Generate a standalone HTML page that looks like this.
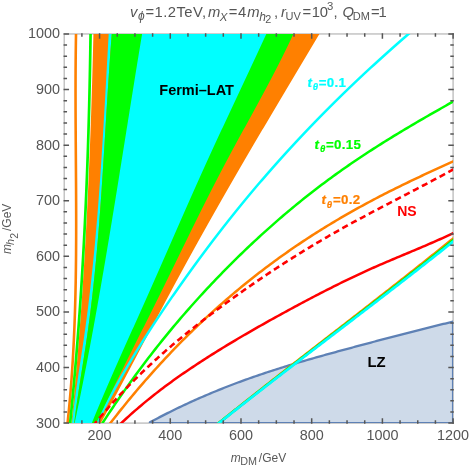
<!DOCTYPE html>
<html><head><meta charset="utf-8"><title>plot</title>
<style>
html,body{margin:0;padding:0;background:#fff;}
body{width:471px;height:469px;overflow:hidden;}
svg{display:block;font-family:"Liberation Sans",sans-serif;}
.tk{font-size:14.4px;fill:#555;}
.ti{font-size:14.8px;fill:#555;}
.ax{font-size:12px;fill:#595959;}
.lb{font-size:14.5px;font-weight:bold;}
.lt{font-size:13.3px;font-weight:bold;stroke-width:0.2px;}
</style></head><body>
<svg width="471" height="469" viewBox="0 0 471 469">
<rect width="471" height="469" fill="#fff"/>
<defs><clipPath id="cp"><rect x="64.25" y="33.95" width="388.85" height="389.15000000000003"/></clipPath></defs>
<rect x="64.25" y="33.95" width="388.85" height="389.15000000000003" fill="none" stroke="#c4c4c4" stroke-width="1.5"/>
<g clip-path="url(#cp)">
<path d="M93.51 30.00 L93.43 33.34 L93.35 36.67 L93.27 40.01 L93.19 43.34 L93.10 46.68 L93.02 50.02 L92.93 53.35 L92.84 56.69 L92.75 60.03 L92.66 63.36 L92.57 66.70 L92.47 70.03 L92.38 73.37 L92.28 76.71 L92.18 80.04 L92.09 83.38 L91.99 86.71 L91.88 90.05 L91.78 93.39 L91.68 96.72 L91.57 100.06 L91.46 103.39 L91.35 106.73 L91.24 110.07 L91.13 113.40 L91.02 116.74 L90.90 120.08 L90.78 123.41 L90.66 126.75 L90.54 130.08 L90.42 133.42 L90.30 136.76 L90.17 140.09 L90.05 143.43 L89.92 146.76 L89.79 150.10 L89.65 153.44 L89.52 156.77 L89.38 160.11 L89.24 163.45 L89.10 166.78 L88.96 170.12 L88.82 173.45 L88.67 176.79 L88.53 180.13 L88.38 183.46 L88.23 186.80 L88.07 190.13 L87.92 193.47 L87.76 196.81 L87.60 200.14 L87.44 203.48 L87.28 206.82 L87.11 210.15 L86.94 213.49 L86.77 216.82 L86.60 220.16 L86.43 223.50 L86.25 226.83 L86.07 230.17 L85.89 233.50 L85.71 236.84 L85.52 240.18 L85.34 243.51 L85.15 246.85 L84.95 250.18 L84.76 253.52 L84.56 256.86 L84.36 260.19 L84.16 263.53 L83.96 266.87 L83.75 270.20 L83.54 273.54 L83.33 276.87 L83.12 280.21 L82.90 283.55 L82.68 286.88 L82.46 290.22 L82.24 293.55 L82.01 296.89 L81.78 300.23 L81.55 303.56 L81.32 306.90 L81.08 310.24 L80.84 313.57 L80.60 316.91 L80.35 320.24 L80.11 323.58 L79.85 326.92 L79.60 330.25 L79.35 333.59 L79.09 336.92 L78.83 340.26 L78.56 343.60 L78.29 346.93 L78.02 350.27 L77.75 353.61 L77.48 356.94 L77.20 360.28 L76.92 363.61 L76.63 366.95 L76.34 370.29 L76.05 373.62 L75.76 376.96 L75.46 380.29 L75.16 383.63 L74.86 386.97 L74.55 390.30 L74.25 393.64 L73.93 396.97 L73.62 400.31 L73.30 403.65 L72.98 406.98 L72.65 410.32 L72.33 413.66 L71.99 416.99 L71.66 420.33 L71.32 423.66 L70.98 427.00 L98.64 427.00 L100.01 424.50 L101.38 422.01 L102.75 419.51 L104.12 417.01 L105.48 414.52 L106.84 412.02 L108.20 409.52 L109.55 407.03 L110.90 404.53 L112.25 402.03 L113.59 399.53 L114.93 397.04 L116.27 394.54 L117.61 392.04 L118.94 389.55 L120.27 387.05 L121.60 384.55 L122.93 382.06 L124.25 379.56 L125.58 377.06 L126.90 374.57 L128.22 372.07 L129.54 369.57 L130.86 367.08 L132.17 364.58 L133.49 362.08 L134.80 359.58 L136.12 357.09 L137.43 354.59 L138.74 352.09 L140.06 349.60 L141.37 347.10 L142.68 344.60 L143.99 342.11 L145.31 339.61 L146.62 337.11 L147.93 334.62 L149.25 332.12 L150.56 329.62 L151.88 327.13 L153.19 324.63 L154.51 322.13 L155.83 319.64 L157.15 317.14 L158.47 314.64 L159.79 312.14 L161.12 309.65 L162.44 307.15 L163.77 304.65 L165.10 302.16 L166.43 299.66 L167.77 297.16 L169.11 294.67 L170.45 292.17 L171.79 289.67 L173.13 287.18 L174.48 284.68 L175.83 282.18 L177.18 279.69 L178.54 277.19 L179.90 274.69 L181.26 272.19 L182.62 269.70 L183.98 267.20 L185.35 264.70 L186.72 262.21 L188.09 259.71 L189.47 257.21 L190.85 254.72 L192.23 252.22 L193.61 249.72 L194.99 247.23 L196.38 244.73 L197.77 242.23 L199.16 239.74 L200.55 237.24 L201.95 234.74 L203.35 232.25 L204.75 229.75 L206.15 227.25 L207.55 224.75 L208.96 222.26 L210.37 219.76 L211.78 217.26 L213.19 214.77 L214.61 212.27 L216.02 209.77 L217.44 207.28 L218.86 204.78 L220.29 202.28 L221.71 199.79 L223.14 197.29 L224.57 194.79 L226.00 192.30 L227.43 189.80 L228.86 187.30 L230.30 184.81 L231.74 182.31 L233.18 179.81 L234.62 177.31 L236.07 174.82 L237.51 172.32 L238.96 169.82 L240.41 167.33 L241.86 164.83 L243.31 162.33 L244.76 159.84 L246.22 157.34 L247.68 154.84 L249.13 152.35 L250.60 149.85 L252.06 147.35 L253.52 144.86 L254.98 142.36 L256.45 139.86 L257.92 137.36 L259.39 134.87 L260.86 132.37 L262.33 129.87 L263.80 127.38 L265.27 124.88 L266.75 122.38 L268.22 119.89 L269.70 117.39 L271.18 114.89 L272.66 112.40 L274.14 109.90 L275.62 107.40 L277.10 104.91 L278.58 102.41 L280.06 99.91 L281.55 97.42 L283.03 94.92 L284.52 92.42 L286.00 89.92 L287.49 87.43 L288.98 84.93 L290.47 82.43 L291.95 79.94 L293.44 77.44 L294.93 74.94 L296.42 72.45 L297.91 69.95 L299.40 67.45 L300.89 64.96 L302.38 62.46 L303.87 59.96 L305.37 57.47 L306.86 54.97 L308.35 52.47 L309.84 49.97 L311.33 47.48 L312.82 44.98 L314.32 42.48 L315.81 39.99 L317.30 37.49 L318.79 34.99 L320.28 32.50 L321.77 30.00 Z" fill="#ff8000"/>
<path d="M413.14 30.00 L410.25 32.50 L407.36 34.99 L404.48 37.49 L401.62 39.99 L398.77 42.48 L395.93 44.98 L393.11 47.48 L390.30 49.97 L387.51 52.47 L384.73 54.97 L381.96 57.47 L379.20 59.96 L376.46 62.46 L373.74 64.96 L371.02 67.45 L368.32 69.95 L365.64 72.45 L362.96 74.94 L360.30 77.44 L357.66 79.94 L355.02 82.43 L352.40 84.93 L349.79 87.43 L347.20 89.92 L344.62 92.42 L342.05 94.92 L339.50 97.42 L336.95 99.91 L334.42 102.41 L331.91 104.91 L329.40 107.40 L326.91 109.90 L324.43 112.40 L321.97 114.89 L319.51 117.39 L317.07 119.89 L314.64 122.38 L312.23 124.88 L309.82 127.38 L307.43 129.87 L305.06 132.37 L302.69 134.87 L300.34 137.36 L297.99 139.86 L295.66 142.36 L293.35 144.86 L291.04 147.35 L288.75 149.85 L286.47 152.35 L284.20 154.84 L281.94 157.34 L279.69 159.84 L277.46 162.33 L275.24 164.83 L273.03 167.33 L270.83 169.82 L268.64 172.32 L266.47 174.82 L264.30 177.31 L262.15 179.81 L260.01 182.31 L257.87 184.81 L255.75 187.30 L253.65 189.80 L251.55 192.30 L249.46 194.79 L247.38 197.29 L245.31 199.79 L243.26 202.28 L241.21 204.78 L239.18 207.28 L237.15 209.77 L235.13 212.27 L233.13 214.77 L231.13 217.26 L229.15 219.76 L227.17 222.26 L225.20 224.75 L223.24 227.25 L221.30 229.75 L219.36 232.25 L217.43 234.74 L215.51 237.24 L213.59 239.74 L211.69 242.23 L209.80 244.73 L207.91 247.23 L206.04 249.72 L204.17 252.22 L202.31 254.72 L200.46 257.21 L198.61 259.71 L196.78 262.21 L194.95 264.70 L193.13 267.20 L191.32 269.70 L189.52 272.19 L187.73 274.69 L185.94 277.19 L184.16 279.69 L182.39 282.18 L180.62 284.68 L178.86 287.18 L177.11 289.67 L175.37 292.17 L173.63 294.67 L171.90 297.16 L170.18 299.66 L168.47 302.16 L166.77 304.65 L165.07 307.15 L163.38 309.65 L161.70 312.14 L160.03 314.64 L158.36 317.14 L156.71 319.64 L155.06 322.13 L153.42 324.63 L151.79 327.13 L150.17 329.62 L148.56 332.12 L146.96 334.62 L145.36 337.11 L143.78 339.61 L142.20 342.11 L140.64 344.60 L139.08 347.10 L137.54 349.60 L136.00 352.09 L134.47 354.59 L132.96 357.09 L131.45 359.58 L129.96 362.08 L128.47 364.58 L126.99 367.08 L125.53 369.57 L124.07 372.07 L122.63 374.57 L121.20 377.06 L119.78 379.56 L118.36 382.06 L116.96 384.55 L115.58 387.05 L114.20 389.55 L112.83 392.04 L111.48 394.54 L110.13 397.04 L108.80 399.53 L107.48 402.03 L106.18 404.53 L104.88 407.03 L103.60 409.52 L102.33 412.02 L101.06 414.52 L99.80 417.01 L98.53 419.51 L97.27 422.01 L96.00 424.50 L94.74 427.00" fill="none" stroke="#00ffff" stroke-width="2.5"/>
<path d="M108.93 30.00 L108.74 33.34 L108.54 36.67 L108.35 40.01 L108.16 43.34 L107.98 46.68 L107.79 50.02 L107.60 53.35 L107.41 56.69 L107.23 60.03 L107.04 63.36 L106.85 66.70 L106.67 70.03 L106.48 73.37 L106.30 76.71 L106.11 80.04 L105.93 83.38 L105.74 86.71 L105.55 90.05 L105.37 93.39 L105.18 96.72 L104.99 100.06 L104.80 103.39 L104.61 106.73 L104.42 110.07 L104.23 113.40 L104.03 116.74 L103.84 120.08 L103.64 123.41 L103.45 126.75 L103.25 130.08 L103.05 133.42 L102.85 136.76 L102.64 140.09 L102.44 143.43 L102.23 146.76 L102.02 150.10 L101.81 153.44 L101.59 156.77 L101.38 160.11 L101.16 163.45 L100.94 166.78 L100.71 170.12 L100.49 173.45 L100.26 176.79 L100.02 180.13 L99.79 183.46 L99.55 186.80 L99.31 190.13 L99.06 193.47 L98.81 196.81 L98.56 200.14 L98.30 203.48 L98.05 206.82 L97.78 210.15 L97.52 213.49 L97.24 216.82 L96.97 220.16 L96.69 223.50 L96.41 226.83 L96.12 230.17 L95.83 233.50 L95.53 236.84 L95.23 240.18 L94.92 243.51 L94.61 246.85 L94.30 250.18 L93.98 253.52 L93.65 256.86 L93.32 260.19 L92.98 263.53 L92.64 266.87 L92.30 270.20 L91.94 273.54 L91.59 276.87 L91.22 280.21 L90.85 283.55 L90.48 286.88 L90.10 290.22 L89.71 293.55 L89.31 296.89 L88.91 300.23 L88.51 303.56 L88.10 306.90 L87.68 310.24 L87.25 313.57 L86.82 316.91 L86.38 320.24 L85.93 323.58 L85.48 326.92 L85.02 330.25 L84.55 333.59 L84.07 336.92 L83.59 340.26 L83.10 343.60 L82.60 346.93 L82.10 350.27 L81.60 353.61 L81.09 356.94 L80.58 360.28 L80.07 363.61 L79.56 366.95 L79.05 370.29 L78.54 373.62 L78.04 376.96 L77.54 380.29 L77.05 383.63 L76.56 386.97 L76.08 390.30 L75.62 393.64 L75.16 396.97 L74.71 400.31 L74.28 403.65 L73.86 406.98 L73.45 410.32 L73.07 413.66 L72.69 416.99 L72.34 420.33 L72.01 423.66 L71.69 427.00 L73.78 427.00 L74.16 423.66 L74.55 420.33 L74.96 416.99 L75.39 413.66 L75.83 410.32 L76.28 406.98 L76.75 403.65 L77.22 400.31 L77.71 396.97 L78.21 393.64 L78.71 390.30 L79.22 386.97 L79.74 383.63 L80.26 380.29 L80.78 376.96 L81.31 373.62 L81.84 370.29 L82.37 366.95 L82.90 363.61 L83.43 360.28 L83.95 356.94 L84.47 353.61 L84.99 350.27 L85.50 346.93 L86.01 343.60 L86.50 340.26 L86.99 336.92 L87.47 333.59 L87.94 330.25 L88.40 326.92 L88.85 323.58 L89.29 320.24 L89.73 316.91 L90.16 313.57 L90.58 310.24 L90.99 306.90 L91.39 303.56 L91.79 300.23 L92.18 296.89 L92.56 293.55 L92.93 290.22 L93.30 286.88 L93.66 283.55 L94.01 280.21 L94.36 276.87 L94.70 273.54 L95.04 270.20 L95.37 266.87 L95.69 263.53 L96.01 260.19 L96.32 256.86 L96.62 253.52 L96.92 250.18 L97.22 246.85 L97.51 243.51 L97.79 240.18 L98.07 236.84 L98.35 233.50 L98.62 230.17 L98.89 226.83 L99.15 223.50 L99.41 220.16 L99.66 216.82 L99.91 213.49 L100.16 210.15 L100.41 206.82 L100.65 203.48 L100.88 200.14 L101.12 196.81 L101.35 193.47 L101.58 190.13 L101.80 186.80 L102.02 183.46 L102.24 180.13 L102.46 176.79 L102.68 173.45 L102.89 170.12 L103.11 166.78 L103.32 163.45 L103.53 160.11 L103.74 156.77 L103.94 153.44 L104.15 150.10 L104.35 146.76 L104.56 143.43 L104.76 140.09 L104.96 136.76 L105.17 133.42 L105.37 130.08 L105.57 126.75 L105.77 123.41 L105.98 120.08 L106.18 116.74 L106.38 113.40 L106.59 110.07 L106.79 106.73 L107.00 103.39 L107.20 100.06 L107.41 96.72 L107.62 93.39 L107.83 90.05 L108.05 86.71 L108.26 83.38 L108.48 80.04 L108.70 76.71 L108.92 73.37 L109.14 70.03 L109.37 66.70 L109.59 63.36 L109.83 60.03 L110.06 56.69 L110.30 53.35 L110.54 50.02 L110.78 46.68 L111.03 43.34 L111.28 40.01 L111.53 36.67 L111.79 33.34 L112.06 30.00 Z" fill="#00ffff"/>
<path d="M112.06 30.00 L111.79 33.34 L111.53 36.67 L111.28 40.01 L111.03 43.34 L110.78 46.68 L110.54 50.02 L110.30 53.35 L110.06 56.69 L109.83 60.03 L109.59 63.36 L109.37 66.70 L109.14 70.03 L108.92 73.37 L108.70 76.71 L108.48 80.04 L108.26 83.38 L108.05 86.71 L107.83 90.05 L107.62 93.39 L107.41 96.72 L107.20 100.06 L107.00 103.39 L106.79 106.73 L106.59 110.07 L106.38 113.40 L106.18 116.74 L105.98 120.08 L105.77 123.41 L105.57 126.75 L105.37 130.08 L105.17 133.42 L104.96 136.76 L104.76 140.09 L104.56 143.43 L104.35 146.76 L104.15 150.10 L103.94 153.44 L103.74 156.77 L103.53 160.11 L103.32 163.45 L103.11 166.78 L102.89 170.12 L102.68 173.45 L102.46 176.79 L102.24 180.13 L102.02 183.46 L101.80 186.80 L101.58 190.13 L101.35 193.47 L101.12 196.81 L100.88 200.14 L100.65 203.48 L100.41 206.82 L100.16 210.15 L99.91 213.49 L99.66 216.82 L99.41 220.16 L99.15 223.50 L98.89 226.83 L98.62 230.17 L98.35 233.50 L98.07 236.84 L97.79 240.18 L97.51 243.51 L97.22 246.85 L96.92 250.18 L96.62 253.52 L96.32 256.86 L96.01 260.19 L95.69 263.53 L95.37 266.87 L95.04 270.20 L94.70 273.54 L94.36 276.87 L94.01 280.21 L93.66 283.55 L93.30 286.88 L92.93 290.22 L92.56 293.55 L92.18 296.89 L91.79 300.23 L91.39 303.56 L90.99 306.90 L90.58 310.24 L90.16 313.57 L89.73 316.91 L89.29 320.24 L88.85 323.58 L88.40 326.92 L87.94 330.25 L87.47 333.59 L86.99 336.92 L86.50 340.26 L86.01 343.60 L85.50 346.93 L84.99 350.27 L84.47 353.61 L83.95 356.94 L83.43 360.28 L82.90 363.61 L82.37 366.95 L81.84 370.29 L81.31 373.62 L80.78 376.96 L80.26 380.29 L79.74 383.63 L79.22 386.97 L78.71 390.30 L78.21 393.64 L77.71 396.97 L77.22 400.31 L76.75 403.65 L76.28 406.98 L75.83 410.32 L75.39 413.66 L74.96 416.99 L74.55 420.33 L74.16 423.66 L73.78 427.00 L94.48 427.00 L95.67 424.50 L96.85 422.01 L98.04 419.51 L99.23 417.01 L100.42 414.52 L101.62 412.02 L102.82 409.52 L104.03 407.03 L105.23 404.53 L106.44 402.03 L107.66 399.53 L108.87 397.04 L110.09 394.54 L111.31 392.04 L112.54 389.55 L113.76 387.05 L114.99 384.55 L116.22 382.06 L117.45 379.56 L118.69 377.06 L119.92 374.57 L121.16 372.07 L122.40 369.57 L123.64 367.08 L124.88 364.58 L126.12 362.08 L127.37 359.58 L128.61 357.09 L129.86 354.59 L131.11 352.09 L132.36 349.60 L133.60 347.10 L134.85 344.60 L136.10 342.11 L137.35 339.61 L138.60 337.11 L139.85 334.62 L141.10 332.12 L142.35 329.62 L143.60 327.13 L144.85 324.63 L146.10 322.13 L147.35 319.64 L148.59 317.14 L149.84 314.64 L151.09 312.14 L152.33 309.65 L153.57 307.15 L154.82 304.65 L156.06 302.16 L157.30 299.66 L158.53 297.16 L159.77 294.67 L161.00 292.17 L162.24 289.67 L163.47 287.18 L164.70 284.68 L165.92 282.18 L167.15 279.69 L168.37 277.19 L169.60 274.69 L170.82 272.19 L172.04 269.70 L173.27 267.20 L174.49 264.70 L175.71 262.21 L176.93 259.71 L178.15 257.21 L179.37 254.72 L180.59 252.22 L181.82 249.72 L183.04 247.23 L184.26 244.73 L185.49 242.23 L186.71 239.74 L187.94 237.24 L189.16 234.74 L190.39 232.25 L191.62 229.75 L192.85 227.25 L194.09 224.75 L195.32 222.26 L196.56 219.76 L197.80 217.26 L199.04 214.77 L200.28 212.27 L201.53 209.77 L202.78 207.28 L204.03 204.78 L205.29 202.28 L206.55 199.79 L207.81 197.29 L209.08 194.79 L210.34 192.30 L211.62 189.80 L212.89 187.30 L214.17 184.81 L215.46 182.31 L216.75 179.81 L218.04 177.31 L219.34 174.82 L220.64 172.32 L221.95 169.82 L223.26 167.33 L224.58 164.83 L225.90 162.33 L227.23 159.84 L228.56 157.34 L229.90 154.84 L231.24 152.35 L232.59 149.85 L233.94 147.35 L235.29 144.86 L236.64 142.36 L238.00 139.86 L239.36 137.36 L240.72 134.87 L242.09 132.37 L243.45 129.87 L244.82 127.38 L246.18 124.88 L247.55 122.38 L248.91 119.89 L250.28 117.39 L251.64 114.89 L253.01 112.40 L254.37 109.90 L255.73 107.40 L257.09 104.91 L258.44 102.41 L259.79 99.91 L261.14 97.42 L262.49 94.92 L263.83 92.42 L265.17 89.92 L266.50 87.43 L267.83 84.93 L269.16 82.43 L270.48 79.94 L271.79 77.44 L273.10 74.94 L274.40 72.45 L275.69 69.95 L276.98 67.45 L278.26 64.96 L279.53 62.46 L280.79 59.96 L282.05 57.47 L283.29 54.97 L284.53 52.47 L285.76 49.97 L286.97 47.48 L288.18 44.98 L289.38 42.48 L290.57 39.99 L291.74 37.49 L292.91 34.99 L294.06 32.50 L295.22 30.00 Z" fill="#00ff00"/>
<path d="M142.75 30.00 L142.19 33.34 L141.64 36.67 L141.09 40.01 L140.54 43.34 L139.99 46.68 L139.44 50.02 L138.89 53.35 L138.35 56.69 L137.80 60.03 L137.26 63.36 L136.71 66.70 L136.17 70.03 L135.63 73.37 L135.09 76.71 L134.55 80.04 L134.01 83.38 L133.47 86.71 L132.94 90.05 L132.40 93.39 L131.86 96.72 L131.33 100.06 L130.79 103.39 L130.26 106.73 L129.72 110.07 L129.19 113.40 L128.66 116.74 L128.12 120.08 L127.59 123.41 L127.06 126.75 L126.52 130.08 L125.99 133.42 L125.46 136.76 L124.93 140.09 L124.39 143.43 L123.86 146.76 L123.33 150.10 L122.79 153.44 L122.26 156.77 L121.72 160.11 L121.19 163.45 L120.66 166.78 L120.12 170.12 L119.58 173.45 L119.05 176.79 L118.51 180.13 L117.97 183.46 L117.44 186.80 L116.90 190.13 L116.36 193.47 L115.82 196.81 L115.27 200.14 L114.73 203.48 L114.19 206.82 L113.64 210.15 L113.10 213.49 L112.55 216.82 L112.00 220.16 L111.46 223.50 L110.91 226.83 L110.35 230.17 L109.80 233.50 L109.25 236.84 L108.69 240.18 L108.13 243.51 L107.57 246.85 L107.01 250.18 L106.45 253.52 L105.89 256.86 L105.32 260.19 L104.76 263.53 L104.19 266.87 L103.62 270.20 L103.04 273.54 L102.47 276.87 L101.89 280.21 L101.31 283.55 L100.73 286.88 L100.15 290.22 L99.56 293.55 L98.98 296.89 L98.39 300.23 L97.79 303.56 L97.20 306.90 L96.60 310.24 L96.00 313.57 L95.40 316.91 L94.80 320.24 L94.19 323.58 L93.58 326.92 L92.97 330.25 L92.35 333.59 L91.73 336.92 L91.11 340.26 L90.49 343.60 L89.86 346.93 L89.23 350.27 L88.60 353.61 L87.96 356.94 L87.32 360.28 L86.68 363.61 L86.03 366.95 L85.38 370.29 L84.73 373.62 L84.08 376.96 L83.42 380.29 L82.75 383.63 L82.09 386.97 L81.42 390.30 L80.74 393.64 L80.07 396.97 L79.39 400.31 L78.70 403.65 L78.01 406.98 L77.32 410.32 L76.63 413.66 L75.93 416.99 L75.22 420.33 L74.51 423.66 L73.80 427.00 L90.20 427.00 L91.22 424.50 L92.24 422.01 L93.27 419.51 L94.29 417.01 L95.33 414.52 L96.36 412.02 L97.40 409.52 L98.45 407.03 L99.50 404.53 L100.56 402.03 L101.61 399.53 L102.68 397.04 L103.74 394.54 L104.81 392.04 L105.89 389.55 L106.96 387.05 L108.04 384.55 L109.13 382.06 L110.21 379.56 L111.30 377.06 L112.39 374.57 L113.49 372.07 L114.58 369.57 L115.68 367.08 L116.78 364.58 L117.89 362.08 L118.99 359.58 L120.10 357.09 L121.21 354.59 L122.32 352.09 L123.43 349.60 L124.55 347.10 L125.66 344.60 L126.78 342.11 L127.89 339.61 L129.01 337.11 L130.13 334.62 L131.25 332.12 L132.37 329.62 L133.49 327.13 L134.61 324.63 L135.73 322.13 L136.85 319.64 L137.97 317.14 L139.08 314.64 L140.20 312.14 L141.32 309.65 L142.44 307.15 L143.56 304.65 L144.67 302.16 L145.79 299.66 L146.90 297.16 L148.01 294.67 L149.12 292.17 L150.23 289.67 L151.34 287.18 L152.45 284.68 L153.55 282.18 L154.66 279.69 L155.76 277.19 L156.86 274.69 L157.96 272.19 L159.06 269.70 L160.16 267.20 L161.26 264.70 L162.36 262.21 L163.45 259.71 L164.55 257.21 L165.65 254.72 L166.74 252.22 L167.84 249.72 L168.93 247.23 L170.03 244.73 L171.12 242.23 L172.22 239.74 L173.32 237.24 L174.41 234.74 L175.51 232.25 L176.60 229.75 L177.70 227.25 L178.80 224.75 L179.89 222.26 L180.99 219.76 L182.09 217.26 L183.19 214.77 L184.29 212.27 L185.39 209.77 L186.50 207.28 L187.60 204.78 L188.71 202.28 L189.81 199.79 L190.92 197.29 L192.03 194.79 L193.14 192.30 L194.25 189.80 L195.37 187.30 L196.48 184.81 L197.60 182.31 L198.72 179.81 L199.84 177.31 L200.96 174.82 L202.09 172.32 L203.22 169.82 L204.35 167.33 L205.48 164.83 L206.61 162.33 L207.75 159.84 L208.89 157.34 L210.03 154.84 L211.18 152.35 L212.32 149.85 L213.47 147.35 L214.62 144.86 L215.77 142.36 L216.93 139.86 L218.08 137.36 L219.24 134.87 L220.40 132.37 L221.56 129.87 L222.72 127.38 L223.88 124.88 L225.05 122.38 L226.21 119.89 L227.38 117.39 L228.54 114.89 L229.71 112.40 L230.88 109.90 L232.05 107.40 L233.22 104.91 L234.39 102.41 L235.56 99.91 L236.73 97.42 L237.90 94.92 L239.07 92.42 L240.24 89.92 L241.41 87.43 L242.58 84.93 L243.75 82.43 L244.92 79.94 L246.09 77.44 L247.26 74.94 L248.43 72.45 L249.60 69.95 L250.77 67.45 L251.93 64.96 L253.10 62.46 L254.27 59.96 L255.43 57.47 L256.59 54.97 L257.75 52.47 L258.91 49.97 L260.07 47.48 L261.23 44.98 L262.39 42.48 L263.54 39.99 L264.69 37.49 L265.84 34.99 L266.99 32.50 L268.14 30.00 Z" fill="#00ffff"/>
<path d="M149.91 422.30 L151.87 421.25 L153.82 420.20 L155.78 419.17 L157.74 418.15 L159.69 417.13 L161.65 416.12 L163.60 415.12 L165.56 414.13 L167.52 413.14 L169.47 412.16 L171.43 411.20 L173.38 410.23 L175.34 409.28 L177.30 408.33 L179.25 407.39 L181.21 406.46 L183.16 405.54 L185.12 404.62 L187.08 403.72 L189.03 402.81 L190.99 401.92 L192.94 401.03 L194.90 400.15 L196.86 399.28 L198.81 398.42 L200.77 397.56 L202.72 396.71 L204.68 395.86 L206.64 395.03 L208.59 394.20 L210.55 393.37 L212.50 392.56 L214.46 391.75 L216.42 390.94 L218.37 390.15 L220.33 389.36 L222.28 388.58 L224.24 387.80 L226.19 387.03 L228.15 386.27 L230.11 385.51 L232.06 384.76 L234.02 384.01 L235.97 383.27 L237.93 382.54 L239.89 381.82 L241.84 381.10 L243.80 380.38 L245.75 379.68 L247.71 378.97 L249.67 378.28 L251.62 377.59 L253.58 376.90 L255.53 376.22 L257.49 375.55 L259.45 374.88 L261.40 374.22 L263.36 373.57 L265.31 372.91 L267.27 372.27 L269.23 371.63 L271.18 370.99 L273.14 370.36 L275.09 369.73 L277.05 369.11 L279.01 368.49 L280.96 367.87 L282.92 367.26 L284.87 366.66 L286.83 366.06 L288.79 365.46 L290.74 364.86 L292.70 364.27 L294.65 363.69 L296.61 363.10 L298.57 362.52 L300.52 361.95 L302.48 361.37 L304.43 360.80 L306.39 360.24 L308.35 359.67 L310.30 359.11 L312.26 358.55 L314.21 358.00 L316.17 357.44 L318.13 356.89 L320.08 356.34 L322.04 355.79 L323.99 355.25 L325.95 354.71 L327.91 354.16 L329.86 353.62 L331.82 353.09 L333.77 352.55 L335.73 352.02 L337.69 351.48 L339.64 350.95 L341.60 350.42 L343.55 349.89 L345.51 349.36 L347.47 348.83 L349.42 348.30 L351.38 347.77 L353.33 347.25 L355.29 346.72 L357.25 346.20 L359.20 345.67 L361.16 345.15 L363.11 344.62 L365.07 344.10 L367.03 343.58 L368.98 343.05 L370.94 342.53 L372.89 342.01 L374.85 341.49 L376.81 340.97 L378.76 340.45 L380.72 339.94 L382.67 339.42 L384.63 338.91 L386.58 338.39 L388.54 337.88 L390.50 337.37 L392.45 336.85 L394.41 336.34 L396.36 335.83 L398.32 335.33 L400.28 334.82 L402.23 334.31 L404.19 333.81 L406.14 333.30 L408.10 332.80 L410.06 332.30 L412.01 331.80 L413.97 331.30 L415.92 330.80 L417.88 330.31 L419.84 329.81 L421.79 329.32 L423.75 328.83 L425.70 328.34 L427.66 327.85 L429.62 327.36 L431.57 326.87 L433.53 326.39 L435.48 325.91 L437.44 325.43 L439.40 324.95 L441.35 324.47 L443.31 323.99 L445.26 323.52 L447.22 323.05 L449.18 322.58 L451.13 322.11 L453.09 321.64 L453.10 423.10 L149.91 423.10 Z" fill="#cedae9" stroke="#5e81b5" stroke-width="2.3" stroke-linejoin="round"/>
<path d="M76.10 30.00 L76.03 33.34 L75.97 36.67 L75.92 40.01 L75.87 43.34 L75.82 46.68 L75.78 50.02 L75.74 53.35 L75.71 56.69 L75.67 60.03 L75.65 63.36 L75.62 66.70 L75.60 70.03 L75.59 73.37 L75.57 76.71 L75.56 80.04 L75.55 83.38 L75.55 86.71 L75.54 90.05 L75.54 93.39 L75.55 96.72 L75.55 100.06 L75.56 103.39 L75.56 106.73 L75.57 110.07 L75.59 113.40 L75.60 116.74 L75.62 120.08 L75.63 123.41 L75.65 126.75 L75.67 130.08 L75.69 133.42 L75.71 136.76 L75.73 140.09 L75.75 143.43 L75.78 146.76 L75.80 150.10 L75.82 153.44 L75.85 156.77 L75.87 160.11 L75.89 163.45 L75.92 166.78 L75.94 170.12 L75.96 173.45 L75.98 176.79 L76.01 180.13 L76.03 183.46 L76.05 186.80 L76.07 190.13 L76.08 193.47 L76.10 196.81 L76.11 200.14 L76.13 203.48 L76.14 206.82 L76.15 210.15 L76.16 213.49 L76.16 216.82 L76.17 220.16 L76.17 223.50 L76.17 226.83 L76.16 230.17 L76.16 233.50 L76.15 236.84 L76.14 240.18 L76.12 243.51 L76.10 246.85 L76.08 250.18 L76.06 253.52 L76.03 256.86 L76.00 260.19 L75.96 263.53 L75.92 266.87 L75.88 270.20 L75.83 273.54 L75.78 276.87 L75.73 280.21 L75.67 283.55 L75.60 286.88 L75.53 290.22 L75.46 293.55 L75.38 296.89 L75.29 300.23 L75.20 303.56 L75.11 306.90 L75.01 310.24 L74.90 313.57 L74.79 316.91 L74.67 320.24 L74.55 323.58 L74.42 326.92 L74.28 330.25 L74.14 333.59 L73.99 336.92 L73.84 340.26 L73.68 343.60 L73.51 346.93 L73.33 350.27 L73.15 353.61 L72.96 356.94 L72.77 360.28 L72.56 363.61 L72.35 366.95 L72.13 370.29 L71.91 373.62 L71.67 376.96 L71.43 380.29 L71.18 383.63 L70.92 386.97 L70.65 390.30 L70.37 393.64 L70.09 396.97 L69.80 400.31 L69.49 403.65 L69.18 406.98 L68.86 410.32 L68.53 413.66 L68.19 416.99 L67.85 420.33 L67.49 423.66 L67.12 427.00" fill="none" stroke="#ff8000" stroke-width="2.6"/>
<path d="M90.61 30.00 L90.57 33.34 L90.52 36.67 L90.47 40.01 L90.42 43.34 L90.37 46.68 L90.32 50.02 L90.27 53.35 L90.21 56.69 L90.15 60.03 L90.09 63.36 L90.03 66.70 L89.97 70.03 L89.90 73.37 L89.84 76.71 L89.77 80.04 L89.70 83.38 L89.63 86.71 L89.55 90.05 L89.48 93.39 L89.40 96.72 L89.32 100.06 L89.24 103.39 L89.16 106.73 L89.07 110.07 L88.98 113.40 L88.89 116.74 L88.80 120.08 L88.71 123.41 L88.61 126.75 L88.51 130.08 L88.42 133.42 L88.31 136.76 L88.21 140.09 L88.10 143.43 L88.00 146.76 L87.89 150.10 L87.77 153.44 L87.66 156.77 L87.54 160.11 L87.42 163.45 L87.30 166.78 L87.18 170.12 L87.05 173.45 L86.92 176.79 L86.79 180.13 L86.66 183.46 L86.53 186.80 L86.39 190.13 L86.25 193.47 L86.11 196.81 L85.96 200.14 L85.82 203.48 L85.67 206.82 L85.52 210.15 L85.36 213.49 L85.21 216.82 L85.05 220.16 L84.89 223.50 L84.72 226.83 L84.56 230.17 L84.39 233.50 L84.21 236.84 L84.04 240.18 L83.86 243.51 L83.68 246.85 L83.50 250.18 L83.32 253.52 L83.13 256.86 L82.94 260.19 L82.75 263.53 L82.55 266.87 L82.36 270.20 L82.16 273.54 L81.95 276.87 L81.75 280.21 L81.54 283.55 L81.33 286.88 L81.11 290.22 L80.89 293.55 L80.67 296.89 L80.45 300.23 L80.22 303.56 L80.00 306.90 L79.76 310.24 L79.53 313.57 L79.29 316.91 L79.05 320.24 L78.81 323.58 L78.56 326.92 L78.31 330.25 L78.06 333.59 L77.81 336.92 L77.55 340.26 L77.29 343.60 L77.02 346.93 L76.75 350.27 L76.48 353.61 L76.21 356.94 L75.93 360.28 L75.65 363.61 L75.37 366.95 L75.08 370.29 L74.80 373.62 L74.50 376.96 L74.21 380.29 L73.91 383.63 L73.61 386.97 L73.30 390.30 L72.99 393.64 L72.68 396.97 L72.36 400.31 L72.04 403.65 L71.72 406.98 L71.40 410.32 L71.07 413.66 L70.74 416.99 L70.40 420.33 L70.06 423.66 L69.72 427.00" fill="none" stroke="#00ff00" stroke-width="2.7"/>
<path d="M99.00 428.45 L101.25 424.99 L103.50 421.53 L105.75 418.09 L108.01 414.68 L110.26 411.29 L112.51 407.94 L114.76 404.61 L117.01 401.31 L119.26 398.04 L121.52 394.79 L123.77 391.57 L126.02 388.38 L128.27 385.21 L130.52 382.07 L132.77 378.95 L135.03 375.86 L137.28 372.79 L139.53 369.75 L141.78 366.74 L144.03 363.74 L146.28 360.77 L148.53 357.83 L150.79 354.91 L153.04 352.01 L155.29 349.13 L157.54 346.28 L159.79 343.45 L162.04 340.64 L164.30 337.85 L166.55 335.09 L168.80 332.34 L171.05 329.62 L173.30 326.92 L175.55 324.24 L177.81 321.58 L180.06 318.93 L182.31 316.31 L184.56 313.71 L186.81 311.13 L189.06 308.56 L191.31 306.02 L193.57 303.49 L195.82 300.98 L198.07 298.49 L200.32 296.02 L202.57 293.56 L204.82 291.12 L207.08 288.70 L209.33 286.30 L211.58 283.91 L213.83 281.53 L216.08 279.18 L218.33 276.84 L220.58 274.51 L222.84 272.20 L225.09 269.90 L227.34 267.62 L229.59 265.36 L231.84 263.10 L234.09 260.87 L236.35 258.65 L238.60 256.44 L240.85 254.25 L243.10 252.07 L245.35 249.91 L247.60 247.76 L249.86 245.62 L252.11 243.50 L254.36 241.40 L256.61 239.31 L258.86 237.23 L261.11 235.17 L263.36 233.12 L265.62 231.08 L267.87 229.06 L270.12 227.06 L272.37 225.06 L274.62 223.08 L276.87 221.12 L279.13 219.17 L281.38 217.23 L283.63 215.30 L285.88 213.39 L288.13 211.49 L290.38 209.61 L292.64 207.74 L294.89 205.88 L297.14 204.04 L299.39 202.20 L301.64 200.38 L303.89 198.58 L306.14 196.79 L308.40 195.01 L310.65 193.24 L312.90 191.49 L315.15 189.74 L317.40 188.02 L319.65 186.30 L321.91 184.60 L324.16 182.90 L326.41 181.23 L328.66 179.56 L330.91 177.91 L333.16 176.26 L335.42 174.63 L337.67 173.02 L339.92 171.41 L342.17 169.82 L344.42 168.23 L346.67 166.66 L348.92 165.10 L351.18 163.56 L353.43 162.02 L355.68 160.49 L357.93 158.97 L360.18 157.47 L362.43 155.97 L364.69 154.48 L366.94 153.00 L369.19 151.53 L371.44 150.08 L373.69 148.62 L375.94 147.18 L378.19 145.75 L380.45 144.32 L382.70 142.91 L384.95 141.50 L387.20 140.10 L389.45 138.70 L391.70 137.32 L393.96 135.94 L396.21 134.57 L398.46 133.20 L400.71 131.84 L402.96 130.49 L405.21 129.14 L407.47 127.80 L409.72 126.47 L411.97 125.14 L414.22 123.81 L416.47 122.50 L418.72 121.18 L420.97 119.87 L423.23 118.57 L425.48 117.27 L427.73 115.97 L429.98 114.68 L432.23 113.39 L434.48 112.10 L436.74 110.82 L438.99 109.54 L441.24 108.27 L443.49 106.99 L445.74 105.72 L447.99 104.45 L450.25 103.19 L452.50 101.92 L454.75 100.66 L457.00 99.39" fill="none" stroke="#00ff00" stroke-width="2.5"/>
<path d="M108.00 426.14 L110.19 423.32 L112.39 420.50 L114.58 417.69 L116.78 414.90 L118.97 412.14 L121.17 409.40 L123.36 406.68 L125.56 403.97 L127.75 401.29 L129.95 398.63 L132.14 395.99 L134.34 393.37 L136.53 390.76 L138.73 388.18 L140.92 385.62 L143.12 383.08 L145.31 380.55 L147.51 378.05 L149.70 375.56 L151.90 373.09 L154.09 370.65 L156.29 368.22 L158.48 365.81 L160.68 363.41 L162.87 361.04 L165.07 358.68 L167.26 356.34 L169.46 354.02 L171.65 351.72 L173.85 349.43 L176.04 347.16 L178.24 344.91 L180.43 342.68 L182.63 340.46 L184.82 338.26 L187.02 336.08 L189.21 333.91 L191.41 331.76 L193.60 329.63 L195.80 327.51 L197.99 325.41 L200.19 323.32 L202.38 321.25 L204.58 319.20 L206.77 317.16 L208.97 315.14 L211.16 313.13 L213.36 311.14 L215.55 309.16 L217.75 307.20 L219.94 305.25 L222.14 303.32 L224.33 301.40 L226.53 299.49 L228.72 297.60 L230.92 295.73 L233.11 293.87 L235.31 292.02 L237.50 290.18 L239.70 288.36 L241.89 286.56 L244.09 284.76 L246.28 282.98 L248.48 281.22 L250.67 279.47 L252.87 277.73 L255.06 276.00 L257.26 274.29 L259.45 272.59 L261.65 270.90 L263.84 269.22 L266.04 267.56 L268.23 265.91 L270.43 264.28 L272.62 262.65 L274.82 261.04 L277.01 259.44 L279.21 257.85 L281.40 256.27 L283.60 254.71 L285.79 253.16 L287.99 251.62 L290.18 250.09 L292.38 248.57 L294.57 247.07 L296.77 245.57 L298.96 244.09 L301.16 242.62 L303.35 241.15 L305.55 239.70 L307.74 238.26 L309.94 236.84 L312.13 235.42 L314.33 234.01 L316.52 232.61 L318.72 231.23 L320.91 229.85 L323.11 228.49 L325.30 227.13 L327.50 225.79 L329.69 224.45 L331.89 223.13 L334.08 221.81 L336.28 220.50 L338.47 219.21 L340.67 217.92 L342.86 216.64 L345.06 215.37 L347.25 214.11 L349.45 212.86 L351.64 211.62 L353.84 210.39 L356.03 209.16 L358.23 207.95 L360.42 206.74 L362.62 205.54 L364.81 204.35 L367.01 203.17 L369.20 201.99 L371.40 200.82 L373.59 199.66 L375.79 198.51 L377.98 197.36 L380.18 196.22 L382.37 195.09 L384.57 193.97 L386.76 192.85 L388.96 191.73 L391.15 190.63 L393.35 189.53 L395.54 188.44 L397.74 187.35 L399.93 186.27 L402.13 185.19 L404.32 184.12 L406.52 183.06 L408.71 182.00 L410.91 180.94 L413.10 179.90 L415.30 178.85 L417.49 177.81 L419.69 176.78 L421.88 175.75 L424.08 174.72 L426.27 173.70 L428.47 172.68 L430.66 171.67 L432.86 170.66 L435.05 169.65 L437.25 168.65 L439.44 167.65 L441.64 166.66 L443.83 165.67 L446.03 164.68 L448.22 163.69 L450.42 162.71 L452.61 161.73 L454.81 160.75 L457.00 159.77" fill="none" stroke="#ff8000" stroke-width="2.5"/>
<path d="M93.00 425.65 L93.91 424.56 L94.82 423.47 L95.74 422.39 L96.65 421.30 L97.56 420.21 L98.47 419.12 L99.39 418.04 L100.30 416.97 L101.21 415.89 L102.12 414.83 L103.04 413.77 L103.95 412.71 L104.86 411.66 L105.77 410.61 L106.68 409.57 L107.60 408.53 L108.51 407.50 L109.42 406.47 L110.33 405.45 L111.25 404.43 L112.16 403.41 L113.07 402.40 L113.98 401.40 L114.89 400.39 L115.81 399.40 L116.72 398.41 L117.63 397.42 L118.54 396.43 L119.46 395.46 L120.37 394.48 L121.28 393.51 L122.19 392.54 L123.11 391.58 L124.02 390.62 L124.93 389.67 L125.84 388.72 L126.75 387.77 L127.67 386.83 L128.58 385.90 L129.49 384.96 L130.40 384.03 L131.32 383.11 L132.23 382.19 L133.14 381.27 L134.05 380.35 L134.96 379.44 L135.88 378.54 L136.79 377.64 L137.70 376.74 L138.61 375.84 L139.53 374.95 L140.44 374.06 L141.35 373.18 L142.26 372.30 L143.18 371.42 L144.09 370.55 L145.00 369.68 L145.91 368.82 L146.82 367.95 L147.74 367.09 L148.65 366.24 L149.56 365.39 L150.47 364.54 L151.39 363.69 L152.30 362.85 L153.21 362.01 L154.12 361.17 L155.04 360.34 L155.95 359.51 L156.86 358.69 L157.77 357.86 L158.68 357.04 L159.60 356.23 L160.51 355.41 L161.42 354.60 L162.33 353.79 L163.25 352.99 L164.16 352.19 L165.07 351.39 L165.98 350.59 L166.89 349.80 L167.81 349.01 L168.72 348.22 L169.63 347.44 L170.54 346.65 L171.46 345.87 L172.37 345.10 L173.28 344.32 L174.19 343.55 L175.11 342.78 L176.02 342.02 L176.93 341.25 L177.84 340.49 L178.75 339.73 L179.67 338.98 L180.58 338.22 L181.49 337.47 L182.40 336.72 L183.32 335.98 L184.23 335.23 L185.14 334.49 L186.05 333.75 L186.96 333.01 L187.88 332.27 L188.79 331.54 L189.70 330.81 L190.61 330.08 L191.53 329.35 L192.44 328.63 L193.35 327.91 L194.26 327.18 L195.18 326.46 L196.09 325.75 L197.00 325.03 L197.91 324.32 L198.82 323.61 L199.74 322.90 L200.65 322.19 L201.56 321.48 L202.47 320.78 L203.39 320.08 L204.30 319.38 L205.21 318.68 L206.12 317.98 L207.04 317.28 L207.95 316.59 L208.86 315.89 L209.77 315.20 L210.68 314.51 L211.60 313.82 L212.51 313.14 L213.42 312.45 L214.33 311.77 L215.25 311.08 L216.16 310.40 L217.07 309.72 L217.98 309.04 L218.89 308.36 L219.81 307.69 L220.72 307.01 L221.63 306.34 L222.54 305.66 L223.46 304.99 L224.37 304.32 L225.28 303.65 L226.19 302.99 L227.11 302.32 L228.02 301.65 L228.93 300.99 L229.84 300.33 L230.75 299.67 L231.67 299.01 L232.58 298.35 L233.49 297.69 L234.40 297.04 L235.32 296.38 L236.23 295.73 L237.14 295.08 L238.05 294.42 L238.96 293.77 L239.88 293.13 L240.79 292.48 L241.70 291.83 L242.61 291.19 L243.53 290.55 L244.44 289.90 L245.35 289.26 L246.26 288.63 L247.18 287.99 L248.09 287.35 L249.00 286.72 L249.91 286.08 L250.82 285.45 L251.74 284.82 L252.65 284.19 L253.56 283.56 L254.47 282.93 L255.39 282.30 L256.30 281.68 L257.21 281.05 L258.12 280.43 L259.04 279.81 L259.95 279.19 L260.86 278.57 L261.77 277.95 L262.68 277.34 L263.60 276.72 L264.51 276.11 L265.42 275.50 L266.33 274.88 L267.25 274.27 L268.16 273.67 L269.07 273.06 L269.98 272.45 L270.89 271.85 L271.81 271.24 L272.72 270.64 L273.63 270.04 L274.54 269.44 L275.46 268.84 L276.37 268.24 L277.28 267.65 L278.19 267.05 L279.11 266.46 L280.02 265.87 L280.93 265.28 L281.84 264.69 L282.75 264.10 L283.67 263.51 L284.58 262.92 L285.49 262.34 L286.40 261.76 L287.32 261.17 L288.23 260.59 L289.14 260.01 L290.05 259.43 L290.96 258.86 L291.88 258.28 L292.79 257.71 L293.70 257.13 L294.61 256.56 L295.53 255.99 L296.44 255.42 L297.35 254.85 L298.26 254.28 L299.18 253.72 L300.09 253.15 L301.00 252.59 L301.91 252.03 L302.82 251.47 L303.74 250.91 L304.65 250.35 L305.56 249.79 L306.47 249.23 L307.39 248.68 L308.30 248.12 L309.21 247.57 L310.12 247.02 L311.04 246.47 L311.95 245.92 L312.86 245.37 L313.77 244.83 L314.68 244.28 L315.60 243.74 L316.51 243.20 L317.42 242.66 L318.33 242.11 L319.25 241.58 L320.16 241.04 L321.07 240.50 L321.98 239.97 L322.89 239.43 L323.81 238.90 L324.72 238.37 L325.63 237.84 L326.54 237.31 L327.46 236.78 L328.37 236.25 L329.28 235.73 L330.19 235.20 L331.11 234.68 L332.02 234.16 L332.93 233.64 L333.84 233.12 L334.75 232.60 L335.67 232.08 L336.58 231.57 L337.49 231.05 L338.40 230.54 L339.32 230.03 L340.23 229.52 L341.14 229.00 L342.05 228.50 L342.96 227.99 L343.88 227.48 L344.79 226.97 L345.70 226.47 L346.61 225.97 L347.53 225.46 L348.44 224.96 L349.35 224.46 L350.26 223.96 L351.18 223.46 L352.09 222.96 L353.00 222.46 L353.91 221.97 L354.82 221.47 L355.74 220.98 L356.65 220.48 L357.56 219.99 L358.47 219.50 L359.39 219.00 L360.30 218.51 L361.21 218.02 L362.12 217.53 L363.04 217.04 L363.95 216.55 L364.86 216.07 L365.77 215.58 L366.68 215.09 L367.60 214.61 L368.51 214.12 L369.42 213.64 L370.33 213.15 L371.25 212.67 L372.16 212.19 L373.07 211.71 L373.98 211.22 L374.89 210.74 L375.81 210.26 L376.72 209.78 L377.63 209.30 L378.54 208.82 L379.46 208.34 L380.37 207.86 L381.28 207.38 L382.19 206.91 L383.11 206.43 L384.02 205.95 L384.93 205.47 L385.84 205.00 L386.75 204.52 L387.67 204.04 L388.58 203.57 L389.49 203.09 L390.40 202.62 L391.32 202.14 L392.23 201.66 L393.14 201.19 L394.05 200.71 L394.96 200.24 L395.88 199.76 L396.79 199.29 L397.70 198.81 L398.61 198.34 L399.53 197.87 L400.44 197.39 L401.35 196.92 L402.26 196.44 L403.18 195.97 L404.09 195.49 L405.00 195.02 L405.91 194.54 L406.82 194.07 L407.74 193.59 L408.65 193.12 L409.56 192.64 L410.47 192.17 L411.39 191.69 L412.30 191.22 L413.21 190.74 L414.12 190.26 L415.04 189.79 L415.95 189.31 L416.86 188.83 L417.77 188.36 L418.68 187.88 L419.60 187.40 L420.51 186.92 L421.42 186.45 L422.33 185.97 L423.25 185.49 L424.16 185.01 L425.07 184.53 L425.98 184.05 L426.89 183.57 L427.81 183.08 L428.72 182.60 L429.63 182.12 L430.54 181.64 L431.46 181.15 L432.37 180.67 L433.28 180.18 L434.19 179.70 L435.11 179.21 L436.02 178.73 L436.93 178.24 L437.84 177.75 L438.75 177.26 L439.67 176.78 L440.58 176.29 L441.49 175.80 L442.40 175.30 L443.32 174.81 L444.23 174.32 L445.14 173.83 L446.05 173.33 L446.96 172.84 L447.88 172.34 L448.79 171.84 L449.70 171.35 L450.61 170.85 L451.53 170.35 L452.44 169.85 L453.35 169.35 L454.26 168.85 L455.18 168.35 L456.09 167.85 L457.00 167.35" fill="none" stroke="#ff0000" stroke-width="2.6" stroke-dasharray="6.2 3.8" stroke-dashoffset="0.20"/>
<path d="M118.00 426.24 L120.13 424.24 L122.26 422.24 L124.40 420.26 L126.53 418.29 L128.66 416.36 L130.79 414.44 L132.92 412.55 L135.06 410.68 L137.19 408.83 L139.32 407.00 L141.45 405.20 L143.58 403.41 L145.72 401.65 L147.85 399.90 L149.98 398.18 L152.11 396.47 L154.25 394.78 L156.38 393.11 L158.51 391.46 L160.64 389.83 L162.77 388.21 L164.91 386.61 L167.04 385.02 L169.17 383.45 L171.30 381.90 L173.43 380.36 L175.57 378.83 L177.70 377.32 L179.83 375.82 L181.96 374.34 L184.09 372.87 L186.23 371.41 L188.36 369.96 L190.49 368.52 L192.62 367.09 L194.75 365.68 L196.89 364.27 L199.02 362.87 L201.15 361.49 L203.28 360.11 L205.42 358.74 L207.55 357.37 L209.68 356.02 L211.81 354.67 L213.94 353.33 L216.08 352.00 L218.21 350.68 L220.34 349.36 L222.47 348.05 L224.60 346.74 L226.74 345.44 L228.87 344.15 L231.00 342.87 L233.13 341.59 L235.26 340.32 L237.40 339.05 L239.53 337.79 L241.66 336.54 L243.79 335.29 L245.92 334.05 L248.06 332.81 L250.19 331.58 L252.32 330.35 L254.45 329.13 L256.58 327.91 L258.72 326.70 L260.85 325.49 L262.98 324.29 L265.11 323.09 L267.25 321.90 L269.38 320.71 L271.51 319.52 L273.64 318.34 L275.77 317.16 L277.91 315.98 L280.04 314.81 L282.17 313.64 L284.30 312.48 L286.43 311.32 L288.57 310.16 L290.70 309.00 L292.83 307.85 L294.96 306.70 L297.09 305.55 L299.23 304.41 L301.36 303.27 L303.49 302.13 L305.62 301.00 L307.75 299.87 L309.89 298.75 L312.02 297.63 L314.15 296.51 L316.28 295.40 L318.42 294.29 L320.55 293.19 L322.68 292.10 L324.81 291.00 L326.94 289.92 L329.08 288.83 L331.21 287.76 L333.34 286.69 L335.47 285.62 L337.60 284.56 L339.74 283.50 L341.87 282.46 L344.00 281.41 L346.13 280.38 L348.26 279.35 L350.40 278.32 L352.53 277.30 L354.66 276.29 L356.79 275.29 L358.92 274.29 L361.06 273.30 L363.19 272.32 L365.32 271.34 L367.45 270.37 L369.58 269.41 L371.72 268.46 L373.85 267.51 L375.98 266.57 L378.11 265.64 L380.25 264.71 L382.38 263.79 L384.51 262.87 L386.64 261.96 L388.77 261.05 L390.91 260.14 L393.04 259.24 L395.17 258.34 L397.30 257.45 L399.43 256.55 L401.57 255.66 L403.70 254.76 L405.83 253.87 L407.96 252.98 L410.09 252.08 L412.23 251.19 L414.36 250.29 L416.49 249.40 L418.62 248.50 L420.75 247.59 L422.89 246.69 L425.02 245.78 L427.15 244.86 L429.28 243.94 L431.42 243.02 L433.55 242.09 L435.68 241.15 L437.81 240.21 L439.94 239.26 L442.08 238.30 L444.21 237.34 L446.34 236.36 L448.47 235.38 L450.60 234.39 L452.74 233.39 L454.87 232.39 L457.00 231.38" fill="none" stroke="#ff0000" stroke-width="2.5"/>
<path d="M214.00 426.81 L215.53 425.57 L217.06 424.34 L218.58 423.11 L220.11 421.87 L221.64 420.64 L223.17 419.41 L224.70 418.18 L226.23 416.95 L227.75 415.73 L229.28 414.50 L230.81 413.27 L232.34 412.05 L233.87 410.83 L235.40 409.61 L236.92 408.39 L238.45 407.17 L239.98 405.95 L241.51 404.73 L243.04 403.51 L244.57 402.30 L246.09 401.08 L247.62 399.87 L249.15 398.66 L250.68 397.45 L252.21 396.24 L253.74 395.03 L255.26 393.82 L256.79 392.61 L258.32 391.40 L259.85 390.20 L261.38 388.99 L262.91 387.79 L264.43 386.58 L265.96 385.38 L267.49 384.18 L269.02 382.98 L270.55 381.78 L272.08 380.58 L273.60 379.38 L275.13 378.18 L276.66 376.98 L278.19 375.78 L279.72 374.59 L281.25 373.39 L282.77 372.20 L284.30 371.00 L285.83 369.81 L287.36 368.61 L288.89 367.42 L290.42 366.23 L291.94 365.03 L293.47 363.84 L295.00 362.65 L296.53 361.46 L298.06 360.27 L299.58 359.08 L301.11 357.89 L302.64 356.70 L304.17 355.51 L305.70 354.32 L307.23 353.13 L308.75 351.95 L310.28 350.76 L311.81 349.57 L313.34 348.38 L314.87 347.20 L316.40 346.01 L317.92 344.82 L319.45 343.64 L320.98 342.45 L322.51 341.26 L324.04 340.08 L325.57 338.89 L327.09 337.71 L328.62 336.52 L330.15 335.33 L331.68 334.15 L333.21 332.96 L334.74 331.78 L336.26 330.59 L337.79 329.41 L339.32 328.22 L340.85 327.03 L342.38 325.85 L343.91 324.66 L345.43 323.48 L346.96 322.29 L348.49 321.10 L350.02 319.92 L351.55 318.73 L353.08 317.54 L354.60 316.36 L356.13 315.17 L357.66 313.98 L359.19 312.79 L360.72 311.61 L362.25 310.42 L363.77 309.23 L365.30 308.04 L366.83 306.85 L368.36 305.66 L369.89 304.47 L371.42 303.28 L372.94 302.09 L374.47 300.90 L376.00 299.70 L377.53 298.51 L379.06 297.32 L380.58 296.13 L382.11 294.93 L383.64 293.74 L385.17 292.54 L386.70 291.35 L388.23 290.15 L389.75 288.95 L391.28 287.76 L392.81 286.56 L394.34 285.36 L395.87 284.16 L397.40 282.96 L398.92 281.76 L400.45 280.56 L401.98 279.35 L403.51 278.15 L405.04 276.95 L406.57 275.74 L408.09 274.54 L409.62 273.33 L411.15 272.12 L412.68 270.92 L414.21 269.71 L415.74 268.50 L417.26 267.29 L418.79 266.07 L420.32 264.86 L421.85 263.65 L423.38 262.43 L424.91 261.22 L426.43 260.00 L427.96 258.78 L429.49 257.56 L431.02 256.34 L432.55 255.12 L434.08 253.90 L435.60 252.68 L437.13 251.45 L438.66 250.23 L440.19 249.00 L441.72 247.77 L443.25 246.54 L444.77 245.31 L446.30 244.08 L447.83 242.85 L449.36 241.62 L450.89 240.38 L452.42 239.14 L453.94 237.91 L455.47 236.67 L457.00 235.43" fill="none" stroke="#ff8000" stroke-width="2.6"/>
<path d="M214.00 426.92 L215.53 425.69 L217.06 424.47 L218.58 423.25 L220.11 422.03 L221.64 420.80 L223.17 419.58 L224.70 418.36 L226.23 417.14 L227.75 415.93 L229.28 414.71 L230.81 413.50 L232.34 412.28 L233.87 411.07 L235.40 409.86 L236.92 408.65 L238.45 407.44 L239.98 406.23 L241.51 405.02 L243.04 403.82 L244.57 402.61 L246.09 401.41 L247.62 400.21 L249.15 399.00 L250.68 397.80 L252.21 396.60 L253.74 395.40 L255.26 394.20 L256.79 393.01 L258.32 391.81 L259.85 390.61 L261.38 389.42 L262.91 388.22 L264.43 387.03 L265.96 385.84 L267.49 384.65 L269.02 383.46 L270.55 382.26 L272.08 381.08 L273.60 379.89 L275.13 378.70 L276.66 377.51 L278.19 376.32 L279.72 375.14 L281.25 373.95 L282.77 372.77 L284.30 371.58 L285.83 370.40 L287.36 369.21 L288.89 368.03 L290.42 366.85 L291.94 365.67 L293.47 364.48 L295.00 363.30 L296.53 362.12 L298.06 360.94 L299.58 359.76 L301.11 358.58 L302.64 357.40 L304.17 356.22 L305.70 355.05 L307.23 353.87 L308.75 352.69 L310.28 351.51 L311.81 350.33 L313.34 349.16 L314.87 347.98 L316.40 346.80 L317.92 345.63 L319.45 344.45 L320.98 343.28 L322.51 342.10 L324.04 340.92 L325.57 339.75 L327.09 338.57 L328.62 337.40 L330.15 336.22 L331.68 335.05 L333.21 333.87 L334.74 332.69 L336.26 331.52 L337.79 330.34 L339.32 329.17 L340.85 327.99 L342.38 326.82 L343.91 325.64 L345.43 324.46 L346.96 323.29 L348.49 322.11 L350.02 320.94 L351.55 319.76 L353.08 318.58 L354.60 317.41 L356.13 316.23 L357.66 315.05 L359.19 313.87 L360.72 312.70 L362.25 311.52 L363.77 310.34 L365.30 309.16 L366.83 307.98 L368.36 306.80 L369.89 305.62 L371.42 304.44 L372.94 303.26 L374.47 302.08 L376.00 300.90 L377.53 299.71 L379.06 298.53 L380.58 297.35 L382.11 296.16 L383.64 294.98 L385.17 293.80 L386.70 292.61 L388.23 291.42 L389.75 290.24 L391.28 289.05 L392.81 287.86 L394.34 286.67 L395.87 285.48 L397.40 284.29 L398.92 283.10 L400.45 281.91 L401.98 280.72 L403.51 279.53 L405.04 278.33 L406.57 277.14 L408.09 275.94 L409.62 274.75 L411.15 273.55 L412.68 272.35 L414.21 271.15 L415.74 269.95 L417.26 268.75 L418.79 267.55 L420.32 266.35 L421.85 265.15 L423.38 263.94 L424.91 262.74 L426.43 261.53 L427.96 260.32 L429.49 259.11 L431.02 257.90 L432.55 256.69 L434.08 255.48 L435.60 254.27 L437.13 253.05 L438.66 251.84 L440.19 250.62 L441.72 249.41 L443.25 248.19 L444.77 246.97 L446.30 245.75 L447.83 244.52 L449.36 243.30 L450.89 242.07 L452.42 240.85 L453.94 239.62 L455.47 238.39 L457.00 237.17" fill="none" stroke="#00ff00" stroke-width="2.6"/>
<path d="M214.00 427.04 L215.53 425.82 L217.06 424.61 L218.58 423.39 L220.11 422.18 L221.64 420.96 L223.17 419.75 L224.70 418.54 L226.23 417.33 L227.75 416.12 L229.28 414.91 L230.81 413.70 L232.34 412.49 L233.87 411.29 L235.40 410.08 L236.92 408.88 L238.45 407.68 L239.98 406.48 L241.51 405.28 L243.04 404.08 L244.57 402.88 L246.09 401.69 L247.62 400.49 L249.15 399.30 L250.68 398.10 L252.21 396.91 L253.74 395.72 L255.26 394.53 L256.79 393.34 L258.32 392.15 L259.85 390.96 L261.38 389.77 L262.91 388.59 L264.43 387.40 L265.96 386.22 L267.49 385.03 L269.02 383.85 L270.55 382.67 L272.08 381.48 L273.60 380.30 L275.13 379.12 L276.66 377.94 L278.19 376.76 L279.72 375.58 L281.25 374.40 L282.77 373.23 L284.30 372.05 L285.83 370.87 L287.36 369.70 L288.89 368.52 L290.42 367.35 L291.94 366.17 L293.47 365.00 L295.00 363.82 L296.53 362.65 L298.06 361.48 L299.58 360.31 L301.11 359.13 L302.64 357.96 L304.17 356.79 L305.70 355.62 L307.23 354.45 L308.75 353.28 L310.28 352.11 L311.81 350.94 L313.34 349.77 L314.87 348.60 L316.40 347.43 L317.92 346.26 L319.45 345.09 L320.98 343.93 L322.51 342.76 L324.04 341.59 L325.57 340.42 L327.09 339.25 L328.62 338.08 L330.15 336.92 L331.68 335.75 L333.21 334.58 L334.74 333.41 L336.26 332.25 L337.79 331.08 L339.32 329.91 L340.85 328.74 L342.38 327.57 L343.91 326.40 L345.43 325.24 L346.96 324.07 L348.49 322.90 L350.02 321.73 L351.55 320.56 L353.08 319.39 L354.60 318.22 L356.13 317.05 L357.66 315.88 L359.19 314.71 L360.72 313.54 L362.25 312.37 L363.77 311.20 L365.30 310.03 L366.83 308.86 L368.36 307.69 L369.89 306.51 L371.42 305.34 L372.94 304.17 L374.47 302.99 L376.00 301.82 L377.53 300.65 L379.06 299.47 L380.58 298.29 L382.11 297.12 L383.64 295.94 L385.17 294.76 L386.70 293.59 L388.23 292.41 L389.75 291.23 L391.28 290.05 L392.81 288.87 L394.34 287.69 L395.87 286.51 L397.40 285.32 L398.92 284.14 L400.45 282.96 L401.98 281.77 L403.51 280.59 L405.04 279.40 L406.57 278.21 L408.09 277.03 L409.62 275.84 L411.15 274.65 L412.68 273.46 L414.21 272.27 L415.74 271.07 L417.26 269.88 L418.79 268.69 L420.32 267.49 L421.85 266.30 L423.38 265.10 L424.91 263.90 L426.43 262.70 L427.96 261.50 L429.49 260.30 L431.02 259.10 L432.55 257.90 L434.08 256.69 L435.60 255.49 L437.13 254.28 L438.66 253.07 L440.19 251.86 L441.72 250.65 L443.25 249.44 L444.77 248.23 L446.30 247.02 L447.83 245.80 L449.36 244.59 L450.89 243.37 L452.42 242.15 L453.94 240.93 L455.47 239.71 L457.00 238.49" fill="none" stroke="#00ffff" stroke-width="2.7"/>
</g>
<path d="M81.90 423.8 v-3.5 M81.90 33.25 v3.5" stroke="#555555" stroke-width="1.5"/>
<path d="M99.58 423.8 v-5.5 M99.58 33.25 v5.5" stroke="#555555" stroke-width="1.5"/>
<path d="M117.26 423.8 v-3.5 M117.26 33.25 v3.5" stroke="#555555" stroke-width="1.5"/>
<path d="M134.93 423.8 v-3.5 M134.93 33.25 v3.5" stroke="#555555" stroke-width="1.5"/>
<path d="M152.61 423.8 v-3.5 M152.61 33.25 v3.5" stroke="#555555" stroke-width="1.5"/>
<path d="M170.28 423.8 v-5.5 M170.28 33.25 v5.5" stroke="#555555" stroke-width="1.5"/>
<path d="M187.96 423.8 v-3.5 M187.96 33.25 v3.5" stroke="#555555" stroke-width="1.5"/>
<path d="M205.64 423.8 v-3.5 M205.64 33.25 v3.5" stroke="#555555" stroke-width="1.5"/>
<path d="M223.31 423.8 v-3.5 M223.31 33.25 v3.5" stroke="#555555" stroke-width="1.5"/>
<path d="M240.99 423.8 v-5.5 M240.99 33.25 v5.5" stroke="#555555" stroke-width="1.5"/>
<path d="M258.66 423.8 v-3.5 M258.66 33.25 v3.5" stroke="#555555" stroke-width="1.5"/>
<path d="M276.34 423.8 v-3.5 M276.34 33.25 v3.5" stroke="#555555" stroke-width="1.5"/>
<path d="M294.02 423.8 v-3.5 M294.02 33.25 v3.5" stroke="#555555" stroke-width="1.5"/>
<path d="M311.69 423.8 v-5.5 M311.69 33.25 v5.5" stroke="#555555" stroke-width="1.5"/>
<path d="M329.37 423.8 v-3.5 M329.37 33.25 v3.5" stroke="#555555" stroke-width="1.5"/>
<path d="M347.04 423.8 v-3.5 M347.04 33.25 v3.5" stroke="#555555" stroke-width="1.5"/>
<path d="M364.72 423.8 v-3.5 M364.72 33.25 v3.5" stroke="#555555" stroke-width="1.5"/>
<path d="M382.40 423.8 v-5.5 M382.40 33.25 v5.5" stroke="#555555" stroke-width="1.5"/>
<path d="M400.07 423.8 v-3.5 M400.07 33.25 v3.5" stroke="#555555" stroke-width="1.5"/>
<path d="M417.75 423.8 v-3.5 M417.75 33.25 v3.5" stroke="#555555" stroke-width="1.5"/>
<path d="M435.42 423.8 v-3.5 M435.42 33.25 v3.5" stroke="#555555" stroke-width="1.5"/>
<path d="M453.10 423.8 v-5.5 M453.10 33.25 v5.5" stroke="#555555" stroke-width="1.5"/>
<path d="M63.55 423.10 h5.5 M453.8 423.10 h-5.5" stroke="#555555" stroke-width="1.5"/>
<path d="M63.55 411.98 h3.5 M453.8 411.98 h-3.5" stroke="#555555" stroke-width="1.5"/>
<path d="M63.55 400.86 h3.5 M453.8 400.86 h-3.5" stroke="#555555" stroke-width="1.5"/>
<path d="M63.55 389.75 h3.5 M453.8 389.75 h-3.5" stroke="#555555" stroke-width="1.5"/>
<path d="M63.55 378.63 h3.5 M453.8 378.63 h-3.5" stroke="#555555" stroke-width="1.5"/>
<path d="M63.55 367.51 h5.5 M453.8 367.51 h-5.5" stroke="#555555" stroke-width="1.5"/>
<path d="M63.55 356.39 h3.5 M453.8 356.39 h-3.5" stroke="#555555" stroke-width="1.5"/>
<path d="M63.55 345.27 h3.5 M453.8 345.27 h-3.5" stroke="#555555" stroke-width="1.5"/>
<path d="M63.55 334.16 h3.5 M453.8 334.16 h-3.5" stroke="#555555" stroke-width="1.5"/>
<path d="M63.55 323.04 h3.5 M453.8 323.04 h-3.5" stroke="#555555" stroke-width="1.5"/>
<path d="M63.55 311.92 h5.5 M453.8 311.92 h-5.5" stroke="#555555" stroke-width="1.5"/>
<path d="M63.55 300.80 h3.5 M453.8 300.80 h-3.5" stroke="#555555" stroke-width="1.5"/>
<path d="M63.55 289.68 h3.5 M453.8 289.68 h-3.5" stroke="#555555" stroke-width="1.5"/>
<path d="M63.55 278.57 h3.5 M453.8 278.57 h-3.5" stroke="#555555" stroke-width="1.5"/>
<path d="M63.55 267.45 h3.5 M453.8 267.45 h-3.5" stroke="#555555" stroke-width="1.5"/>
<path d="M63.55 256.33 h5.5 M453.8 256.33 h-5.5" stroke="#555555" stroke-width="1.5"/>
<path d="M63.55 245.21 h3.5 M453.8 245.21 h-3.5" stroke="#555555" stroke-width="1.5"/>
<path d="M63.55 234.09 h3.5 M453.8 234.09 h-3.5" stroke="#555555" stroke-width="1.5"/>
<path d="M63.55 222.98 h3.5 M453.8 222.98 h-3.5" stroke="#555555" stroke-width="1.5"/>
<path d="M63.55 211.86 h3.5 M453.8 211.86 h-3.5" stroke="#555555" stroke-width="1.5"/>
<path d="M63.55 200.74 h5.5 M453.8 200.74 h-5.5" stroke="#555555" stroke-width="1.5"/>
<path d="M63.55 189.62 h3.5 M453.8 189.62 h-3.5" stroke="#555555" stroke-width="1.5"/>
<path d="M63.55 178.50 h3.5 M453.8 178.50 h-3.5" stroke="#555555" stroke-width="1.5"/>
<path d="M63.55 167.39 h3.5 M453.8 167.39 h-3.5" stroke="#555555" stroke-width="1.5"/>
<path d="M63.55 156.27 h3.5 M453.8 156.27 h-3.5" stroke="#555555" stroke-width="1.5"/>
<path d="M63.55 145.15 h5.5 M453.8 145.15 h-5.5" stroke="#555555" stroke-width="1.5"/>
<path d="M63.55 134.03 h3.5 M453.8 134.03 h-3.5" stroke="#555555" stroke-width="1.5"/>
<path d="M63.55 122.91 h3.5 M453.8 122.91 h-3.5" stroke="#555555" stroke-width="1.5"/>
<path d="M63.55 111.80 h3.5 M453.8 111.80 h-3.5" stroke="#555555" stroke-width="1.5"/>
<path d="M63.55 100.68 h3.5 M453.8 100.68 h-3.5" stroke="#555555" stroke-width="1.5"/>
<path d="M63.55 89.56 h5.5 M453.8 89.56 h-5.5" stroke="#555555" stroke-width="1.5"/>
<path d="M63.55 78.44 h3.5 M453.8 78.44 h-3.5" stroke="#555555" stroke-width="1.5"/>
<path d="M63.55 67.32 h3.5 M453.8 67.32 h-3.5" stroke="#555555" stroke-width="1.5"/>
<path d="M63.55 56.21 h3.5 M453.8 56.21 h-3.5" stroke="#555555" stroke-width="1.5"/>
<path d="M63.55 45.09 h3.5 M453.8 45.09 h-3.5" stroke="#555555" stroke-width="1.5"/>
<path d="M63.55 33.97 h5.5 M453.8 33.97 h-5.5" stroke="#555555" stroke-width="1.5"/>
<text x="99.6" y="440.4" text-anchor="middle" class="tk">200</text>
<text x="170.3" y="440.4" text-anchor="middle" class="tk">400</text>
<text x="241.0" y="440.4" text-anchor="middle" class="tk">600</text>
<text x="311.7" y="440.4" text-anchor="middle" class="tk">800</text>
<text x="382.4" y="440.4" text-anchor="middle" class="tk">1000</text>
<text x="453.1" y="440.4" text-anchor="middle" class="tk">1200</text>
<text x="60" y="427.5" text-anchor="end" class="tk">300</text>
<text x="60" y="371.9" text-anchor="end" class="tk">400</text>
<text x="60" y="316.3" text-anchor="end" class="tk">500</text>
<text x="60" y="260.7" text-anchor="end" class="tk">600</text>
<text x="60" y="205.1" text-anchor="end" class="tk">700</text>
<text x="60" y="149.6" text-anchor="end" class="tk">800</text>
<text x="60" y="94.0" text-anchor="end" class="tk">900</text>
<text x="60" y="38.4" text-anchor="end" class="tk">1000</text>
<g class="ti">
<text x="130" y="16.8" font-style="italic">v</text>
<text x="137.9" y="20.4" font-style="italic" font-size="12">ϕ</text>
<text x="145.4" y="16.8" letter-spacing="0.45">=1.2TeV,</text>
<text x="207.9" y="16.8" font-style="italic">m</text>
<text x="219.8" y="20.9" font-style="italic" font-size="11.5">X</text>
<text x="228.8" y="16.8" letter-spacing="0.6">=4</text>
<text x="247.2" y="16.8" font-style="italic">m</text>
<text x="259.2" y="20.6" font-style="italic" font-size="12">h</text>
<text x="265.2" y="23" font-size="10.8">2</text>
<text x="274" y="16.8">,</text>
<text x="281.1" y="16.8" font-style="italic">r</text>
<text x="285.6" y="20.4" font-size="11">UV</text>
<text x="302.4" y="16.8">=</text>
<text x="311.8" y="16.8" letter-spacing="-0.2">10</text>
<text x="327" y="10.1" font-size="11.3">3</text>
<text x="333.6" y="16.8">,</text>
<text x="342.6" y="16.8" font-style="italic">Q</text>
<text x="352.8" y="20.4" font-size="11">DM</text>
<text x="370.9" y="16.8" letter-spacing="-1">=1</text>
</g>
<g class="ax">
<text x="230.8" y="461.7" font-style="italic">m</text>
<text x="240.2" y="465.1" font-size="10.8">DM</text>
<text x="258.8" y="461.6">/GeV</text>
<text transform="translate(11.1,254) rotate(-90)" font-style="italic">m</text>
<text transform="translate(14.3,245.1) rotate(-90)" font-style="italic" font-size="10.8">h</text>
<text transform="translate(17.7,238.8) rotate(-90)" font-size="10.5">2</text>
<text transform="translate(11.0,231) rotate(-90)">/GeV</text>
</g>
<text x="159.3" y="95" class="lb" fill="#000">Fermi–LAT</text>
<text x="367.5" y="367" class="lb" style="font-size:14.9px" fill="#000">LZ</text>
<g class="lt" fill="#00ffff" stroke="#00ffff"><text x="307.4" y="87.2" font-style="italic">t</text><text x="312.7" y="90.4" font-style="italic" font-size="9.6">θ</text><text x="318.79999999999995" y="87.2" letter-spacing="0.3">=0.1</text></g>
<g class="lt" fill="#00ff00" stroke="#00ff00"><text x="314.6" y="148.6" font-style="italic">t</text><text x="319.90000000000003" y="151.79999999999998" font-style="italic" font-size="9.6">θ</text><text x="326.0" y="148.6" letter-spacing="0.3">=0.15</text></g>
<g class="lt" fill="#ff8000" stroke="#ff8000"><text x="321.5" y="204.3" font-style="italic">t</text><text x="326.8" y="207.5" font-style="italic" font-size="9.6">θ</text><text x="332.9" y="204.3" letter-spacing="0.3">=0.2</text></g>
<text x="397.2" y="216.2" class="lb" style="font-size:14px" fill="#ff0000">NS</text>
</svg>
</body></html>
